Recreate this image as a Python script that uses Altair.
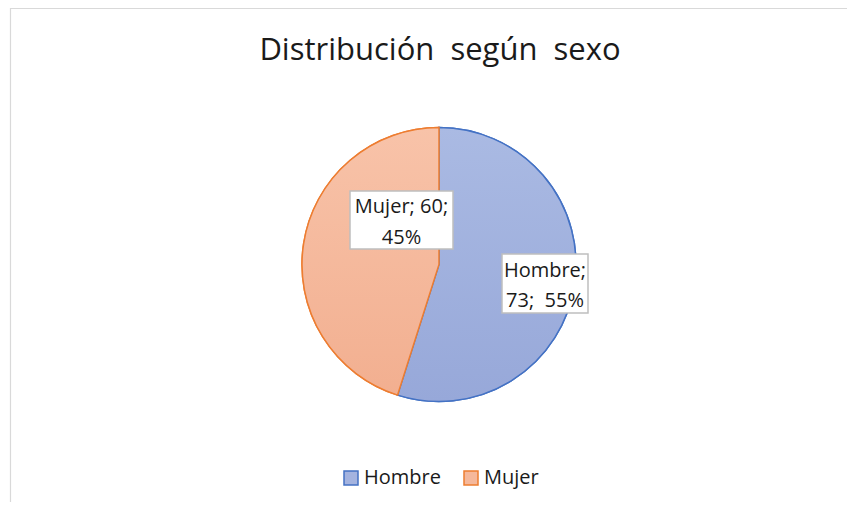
import altair as alt
import pandas as pd

# ---- data ----
categories = ["Hombre", "Mujer"]
counts = [73, 60]
percents = [55, 45]
title_text = "Distribución\u00a0\u00a0según\u00a0\u00a0sexo"

fill_colors = ["#A4B3DF", "#F5B89B"]
stroke_colors = ["#4472C4", "#ED7D31"]
grad_top = ["#AABAE3", "#F8C3A9"]
grad_bottom = ["#97A8D9", "#F2AF90"]

df = pd.DataFrame({"sexo": categories, "n": counts, "orden": [0, 1]})
one = pd.DataFrame({"k": [0]})

W, H = 839, 494
CX, CY, R = 431, 256.5, 137
FONT = "Open Sans"
TXT = "#1a1a1a"


def grad(top, bottom):
    return {"gradient": "linear", "x1": 0, "y1": 0, "x2": 0, "y2": 1,
            "stops": [{"offset": 0, "color": top}, {"offset": 1, "color": bottom}]}


base = alt.Chart(df).encode(
    theta=alt.Theta("n:Q", stack=True),
    order=alt.Order("orden:Q"),
    x=alt.value(CX),
    y=alt.value(CY),
)

legend_arc = base.mark_arc(outerRadius=R, strokeWidth=1.5).encode(
    fill=alt.Fill("sexo:N", scale=alt.Scale(domain=categories, range=fill_colors),
                  legend=alt.Legend(title=None)),
    stroke=alt.Stroke("sexo:N", scale=alt.Scale(domain=categories, range=stroke_colors),
                      legend=alt.Legend(title=None)),
)

grad_arc = base.mark_arc(outerRadius=R, strokeWidth=1.5).encode(
    fill=alt.condition("datum.sexo === 'Hombre'",
                       alt.value(grad(grad_top[0], grad_bottom[0])),
                       alt.value(grad(grad_top[1], grad_bottom[1]))),
    stroke=alt.condition("datum.sexo === 'Hombre'",
                         alt.value(stroke_colors[0]), alt.value(stroke_colors[1])),
)

border = alt.Chart(one).mark_rect(fill="transparent", stroke="#D9D9D9", strokeWidth=1.2).encode(
    x=alt.value(2.5), x2=alt.value(W + 20), y=alt.value(0.5), y2=alt.value(H + 20)
)

title = alt.Chart(one).mark_text(
    font=FONT, fontSize=31, color=TXT, align="center", baseline="alphabetic"
).encode(x=alt.value(432), y=alt.value(52.3), text=alt.value(title_text))

lab_m = [f"{categories[1]}; {counts[1]};", f"{percents[1]}%"]
lab_h = [f"{categories[0]};", f"{counts[0]};\u00a0 {percents[0]}%"]

box_m = alt.Chart(one).mark_rect(fill="white", stroke="#BFBFBF", strokeWidth=1.5).encode(
    x=alt.value(342), x2=alt.value(445), y=alt.value(183), y2=alt.value(241))
box_h = alt.Chart(one).mark_rect(fill="white", stroke="#BFBFBF", strokeWidth=1.5).encode(
    x=alt.value(494), x2=alt.value(580), y=alt.value(246), y2=alt.value(305))

txt_m = alt.Chart(one).mark_text(
    font=FONT, fontSize=20, color=TXT, align="center", baseline="alphabetic", lineHeight=31
).encode(x=alt.value(393.5), y=alt.value(204.7), text=alt.value(lab_m))
txt_h = alt.Chart(one).mark_text(
    font=FONT, fontSize=20, color=TXT, align="center", baseline="alphabetic", lineHeight=30
).encode(x=alt.value(537), y=alt.value(269.3), text=alt.value(lab_h))

chart = alt.layer(
    border, legend_arc, grad_arc, title, box_m, txt_m, box_h, txt_h
).properties(
    width=W, height=H, autosize=alt.AutoSizeParams(type="none"), padding=0
).configure_view(stroke=None).configure_legend(
    orient="none", legendX=333, legendY=460, direction="horizontal",
    symbolType="square", symbolSize=196, symbolStrokeWidth=1.5,
    labelFont=FONT, labelFontSize=20, labelColor=TXT, labelOffset=3,
    columnPadding=20, padding=0,
)

chart.save("out.html", embed_options={"renderer": "svg", "actions": False})
